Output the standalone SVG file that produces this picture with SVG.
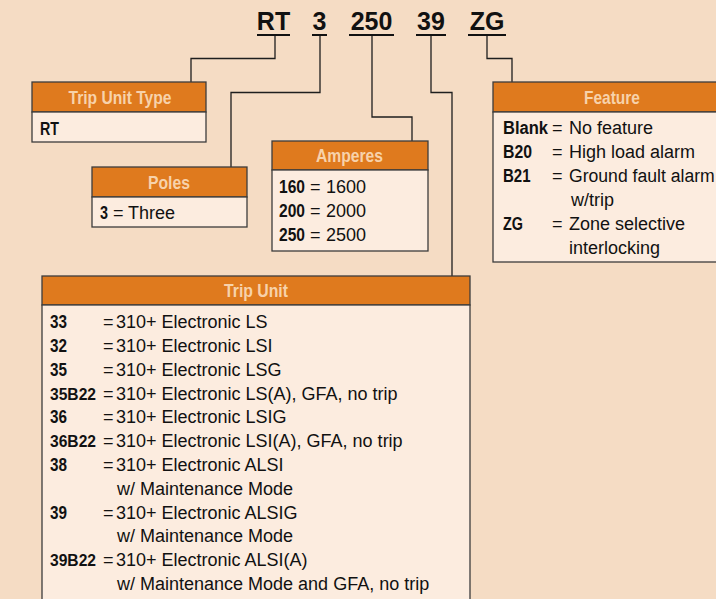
<svg xmlns="http://www.w3.org/2000/svg" width="716" height="599" viewBox="0 0 716 599">
<style>
.bg{fill:#f5dcc4}
.hd{fill:#df7a1e;stroke:#3c3c3c;stroke-width:1.3}
.bd{fill:#fcecdf;stroke:#3c3c3c;stroke-width:1.3}
.ht{font-family:"Liberation Sans Narrow","Liberation Sans",Arial,sans-serif;font-weight:bold;font-size:19px;fill:#f7d2ab;text-anchor:middle}
.t{font-family:"Liberation Sans",Arial,sans-serif;font-size:18px;fill:#111}
.b{font-family:"Liberation Sans Narrow","Liberation Sans",Arial,sans-serif;font-weight:bold;font-size:19px;fill:#111}
.b5{font-size:17px}
.ti{font-family:"Liberation Sans",Arial,sans-serif;font-weight:bold;font-size:25px;fill:#111;text-anchor:middle}
.ul{stroke:#111;stroke-width:2}
.c{fill:none;stroke:#1e1e1e;stroke-width:1.3}
</style>
<rect class="bg" x="0" y="0" width="716" height="599"/>

<g id="title">
<text class="ti" x="273.5" y="30">RT</text>
<text class="ti" x="319.5" y="30">3</text>
<text class="ti" x="371.5" y="30">250</text>
<text class="ti" x="431" y="30">39</text>
<text class="ti" x="487" y="30">ZG</text>
<line class="ul" x1="257" y1="35" x2="290" y2="35"/>
<line class="ul" x1="312" y1="35" x2="327" y2="35"/>
<line class="ul" x1="349" y1="35" x2="394" y2="35"/>
<line class="ul" x1="416" y1="35" x2="446" y2="35"/>
<line class="ul" x1="468" y1="35" x2="506" y2="35"/>
</g>

<g id="connectors">
<path class="c" d="M275 36 V58.5 H191 V82"/>
<path class="c" d="M320 36 V92.5 H231 V167"/>
<path class="c" d="M372 36 V117 H412 V141"/>
<path class="c" d="M431 36 V92.5 H452 V276"/>
<path class="c" d="M487 36 V58.5 H512 V82"/>
</g>

<g id="trip-unit-type">
<rect class="hd" x="32" y="82" width="174" height="30"/>
<rect class="bd" x="32" y="112" width="174" height="30"/>
<text class="ht" x="120" y="104" textLength="103" lengthAdjust="spacingAndGlyphs">Trip Unit Type</text>
<text class="b" x="40" y="135" textLength="19" lengthAdjust="spacingAndGlyphs">RT</text>
</g>

<g id="poles">
<rect class="hd" x="92" y="167" width="155" height="30"/>
<rect class="bd" x="92" y="197" width="155" height="30"/>
<text class="ht" x="169" y="189" textLength="42" lengthAdjust="spacingAndGlyphs">Poles</text>
<text class="b" x="100" y="219" textLength="8" lengthAdjust="spacingAndGlyphs">3</text>
<text class="t" x="113" y="219">=<tspan x="128">Three</tspan></text>
</g>

<g id="amperes">
<rect class="hd" x="272" y="141" width="156" height="29"/>
<rect class="bd" x="272" y="170" width="156" height="81"/>
<text class="ht" x="349.5" y="162" textLength="67" lengthAdjust="spacingAndGlyphs">Amperes</text>
<text class="b" x="279" y="193" textLength="26" lengthAdjust="spacingAndGlyphs">160</text>
<text class="t" x="310" y="193">=<tspan x="326">1600</tspan></text>
<text class="b" x="279" y="217" textLength="26" lengthAdjust="spacingAndGlyphs">200</text>
<text class="t" x="310" y="217">=<tspan x="326">2000</tspan></text>
<text class="b" x="279" y="241" textLength="26" lengthAdjust="spacingAndGlyphs">250</text>
<text class="t" x="310" y="241">=<tspan x="326">2500</tspan></text>
</g>

<g id="feature">
<rect class="hd" x="493" y="82" width="240" height="30"/>
<rect class="bd" x="493" y="112" width="240" height="150"/>
<text class="ht" x="612" y="104" textLength="56" lengthAdjust="spacingAndGlyphs">Feature</text>
<text class="b" x="503" y="134" style="font-size:17.5px" textLength="45" lengthAdjust="spacingAndGlyphs">Blank</text>
<text class="t" x="552" y="134">=<tspan x="569">No feature</tspan></text>
<text class="b" x="503" y="158" textLength="29" lengthAdjust="spacingAndGlyphs">B20</text>
<text class="t" x="552" y="158">=<tspan x="569">High load alarm</tspan></text>
<text class="b" x="503" y="182" textLength="27.5" lengthAdjust="spacingAndGlyphs">B21</text>
<text class="t" x="552" y="182">=</text>
<text class="t" x="569" y="182" style="font-size:17.6px">Ground fault alarm</text>
<text class="t" x="571" y="206">w/trip</text>
<text class="b" x="503" y="230" textLength="20" lengthAdjust="spacingAndGlyphs">ZG</text>
<text class="t" x="552" y="230">=<tspan x="569">Zone selective</tspan></text>
<text class="t" x="569" y="254">interlocking</text>
</g>

<g id="trip-unit">
<rect class="hd" x="42" y="276" width="428" height="29"/>
<rect class="bd" x="42" y="305" width="428" height="300"/>
<text class="ht" x="256" y="297" textLength="64" lengthAdjust="spacingAndGlyphs">Trip Unit</text>
<text class="b" x="50" y="328" textLength="17" lengthAdjust="spacingAndGlyphs">33</text>
<text class="t" x="103" y="328">=<tspan x="116">310+ Electronic LS</tspan></text>
<text class="b" x="50" y="352" textLength="17" lengthAdjust="spacingAndGlyphs">32</text>
<text class="t" x="103" y="352">=<tspan x="116">310+ Electronic LSI</tspan></text>
<text class="b" x="50" y="375.5" textLength="17" lengthAdjust="spacingAndGlyphs">35</text>
<text class="t" x="103" y="375.5">=<tspan x="116">310+ Electronic LSG</tspan></text>
<text class="b b5" x="50" y="399.5" textLength="46" lengthAdjust="spacingAndGlyphs">35B22</text>
<text class="t" x="103" y="399.5">=<tspan x="116">310+ Electronic LS(A), GFA, no trip</tspan></text>
<text class="b" x="50" y="423" textLength="17" lengthAdjust="spacingAndGlyphs">36</text>
<text class="t" x="103" y="423">=<tspan x="116">310+ Electronic LSIG</tspan></text>
<text class="b b5" x="50" y="447" textLength="46" lengthAdjust="spacingAndGlyphs">36B22</text>
<text class="t" x="103" y="447">=<tspan x="116">310+ Electronic LSI(A), GFA, no trip</tspan></text>
<text class="b" x="50" y="471" textLength="17" lengthAdjust="spacingAndGlyphs">38</text>
<text class="t" x="103" y="471">=<tspan x="116">310+ Electronic ALSI</tspan></text>
<text class="t" x="117" y="494.5">w/ Maintenance Mode</text>
<text class="b" x="50" y="518.5" textLength="17" lengthAdjust="spacingAndGlyphs">39</text>
<text class="t" x="103" y="518.5">=<tspan x="116">310+ Electronic ALSIG</tspan></text>
<text class="t" x="117" y="542">w/ Maintenance Mode</text>
<text class="b b5" x="50" y="566" textLength="46" lengthAdjust="spacingAndGlyphs">39B22</text>
<text class="t" x="103" y="566">=<tspan x="116">310+ Electronic ALSI(A)</tspan></text>
<text class="t" x="117" y="590">w/ Maintenance Mode and GFA, no trip</text>
</g>
</svg>
